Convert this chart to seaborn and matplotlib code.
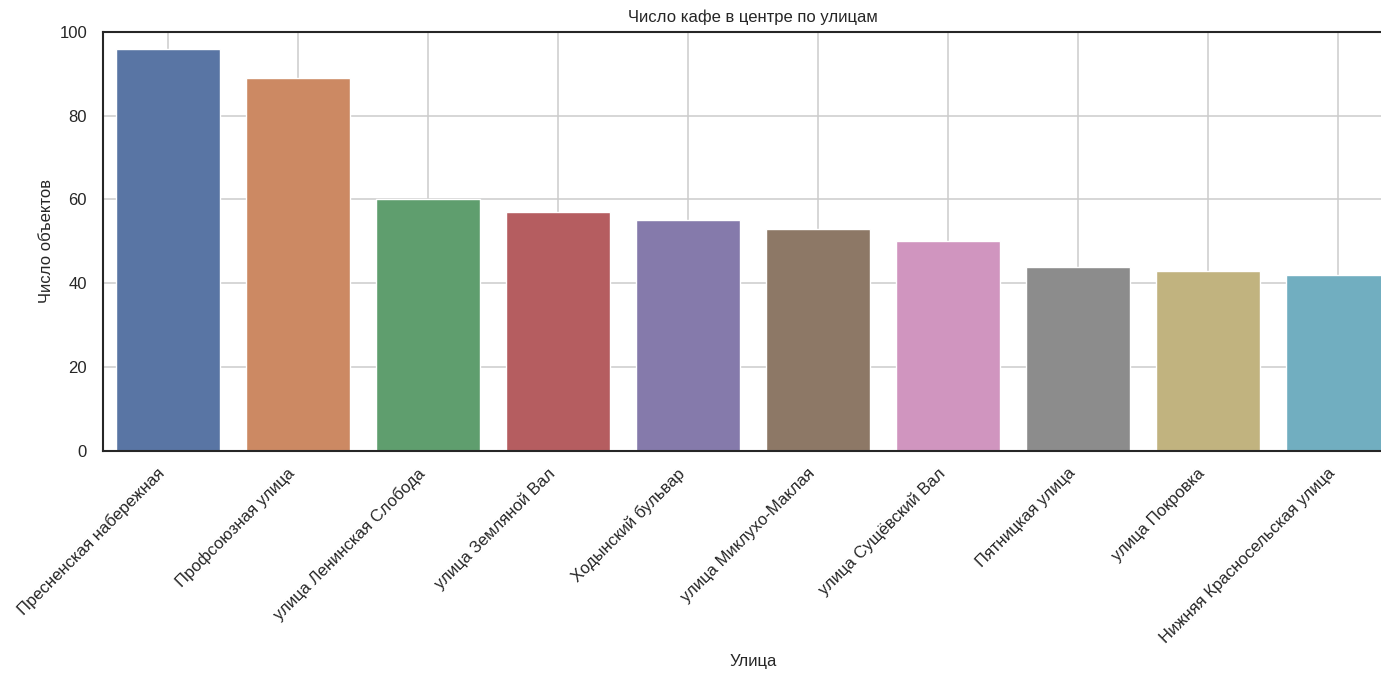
import pandas as pd
import matplotlib
matplotlib.use("Agg")
import matplotlib.pyplot as plt
import seaborn as sns

streets = [
    "Пресненская набережная",
    "Профсоюзная улица",
    "улица Ленинская Слобода",
    "улица Земляной Вал",
    "Ходынский бульвар",
    "улица Миклухо-Маклая",
    "улица Сущёвский Вал",
    "Пятницкая улица",
    "улица Покровка",
    "Нижняя Красносельская улица",
]
cafe_counts = [96, 89, 60, 57, 55, 53, 50, 44, 43, 42]

df = pd.DataFrame({"street": streets, "count": cafe_counts})

sns.set_style("whitegrid", {"axes.edgecolor": ".15"})
plt.rcParams["font.family"] = ["Liberation Sans", "DejaVu Sans"]

fig = plt.figure(figsize=(13.81, 6.74), dpi=100)
ax = fig.add_axes([0.0746, 0.331, 0.9413, 0.6217])

sns.barplot(data=df, x="street", y="count", hue="street", palette="deep",
            legend=False, ax=ax)

ax.set_title("Число кафе в центре по улицам", fontsize=12, pad=7)
ax.set_xlabel("Улица", fontsize=12, labelpad=6)
ax.set_ylabel("Число объектов", fontsize=12, labelpad=4)
ax.set_ylim(0, 100)
ax.grid(True, axis="both", color=".8", linewidth=1.1)
ax.set_axisbelow(True)
ax.tick_params(axis="y", labelsize=12, colors=".15", pad=8)
ax.tick_params(axis="x", labelsize=12, colors=".15", pad=7)
plt.setp(ax.get_xticklabels(), rotation=45, ha="right")
for side in ["left", "top", "bottom"]:
    ax.spines[side].set_linewidth(1.5)

fig.savefig("out.png", dpi=100)
